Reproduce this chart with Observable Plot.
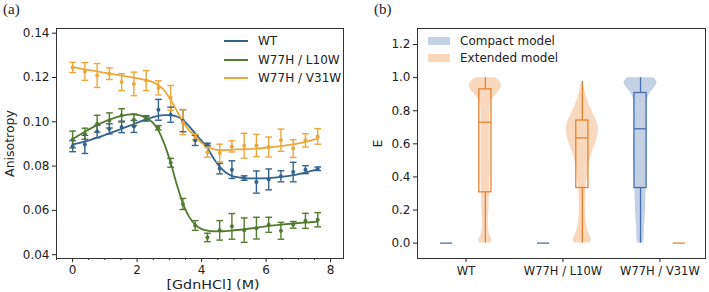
<!DOCTYPE html>
<html>
<head>
<meta charset="utf-8">
<script src="https://cdn.jsdelivr.net/npm/d3@7"></script>
<script src="https://cdn.jsdelivr.net/npm/@observablehq/plot@0.6"></script>
<style>
  body { margin: 0; background: #fff; }
  #wrap { position: relative; width: 709px; height: 292px; background: #fff; overflow: hidden; font-family: "DejaVu Sans", sans-serif; color: #222; }
  .panel { position: absolute; top: 0; }
  .tag { position: absolute; font-family: "Liberation Serif", "DejaVu Serif", serif; font-size: 15px; color: #222; }
  .leg { position: absolute; font-size: 12px; color: #222; }
  .leg .row { position: absolute; white-space: nowrap; display: flex; align-items: center; }
  .leg .sw-line { display: inline-block; width: 24px; height: 0; border-top: 2px solid; margin-right: 10px; }
  .leg .sw-patch { display: inline-block; width: 22px; height: 8px; margin-right: 10px; }
  #xlabA { position: absolute; left: 163px; width: 100px; top: 277px; text-align: center; font-size: 13px; line-height: 15px; white-space: nowrap; transform: scaleX(1.1); color: #222; }
  .panel svg text { font-family: "DejaVu Sans", sans-serif !important; fill: #222; }
  .panel svg [aria-label="x-axis tick label"], .panel svg [aria-label="x-axis tick label"] text { font-size: 12px !important; }
  .panel svg [aria-label="y-axis tick label"], .panel svg [aria-label="y-axis tick label"] text { font-size: 12px !important; }
  .panel svg [aria-label="y-axis label"], .panel svg [aria-label="y-axis label"] text { font-size: 12.5px !important; }
  #pb svg [aria-label="x-axis tick label"], #pb svg [aria-label="x-axis tick label"] text { font-size: 11.5px !important; }
</style>
</head>
<body>
<div id="wrap">
  <div id="pa" class="panel" style="left:0"></div>
  <div id="pb" class="panel" style="left:360px"></div>
  <div class="tag" style="left:3px; top:1px">(a)</div>
  <div class="tag" style="left:374px; top:1px">(b)</div>
  <div id="legA" class="leg"></div>
  <div id="legB" class="leg"></div>
  <div id="xlabA"></div>
</div>
<script>
// ---------------- Panel (a) data ----------------
const seriesNames = ["WT", "W77H / L10W", "W77H / V31W"];
const seriesColors = ["#33638f", "#527a30", "#eaa83a"];
const aXLabel = "[GdnHCl] (M)";
const aYLabel = "Anisotropy";
const conc = [0, 0.38, 0.76, 1.14, 1.52, 1.9, 2.28, 2.66, 3.04, 3.42, 3.8, 4.18, 4.56, 4.94, 5.32, 5.7, 6.08, 6.46, 6.84, 7.22, 7.6];

const wtMean = [0.0890,0.0898,0.0956,0.0968,0.0977,0.0979,0.1013,0.1054,0.1032,0.1005,0.0916,0.0898,0.0789,0.0784,0.0746,0.0728,0.0740,0.0754,0.0773,0.0784,0.0788];
const wtErr  = [0.0025,0.0041,0.0028,0.0023,0.0026,0.0027,0.0010,0.0047,0.0034,0.0050,0.0023,0.0005,0.0024,0.0040,0.0010,0.0050,0.0047,0.0025,0.0044,0.0018,0.0008];
const l10Mean = [0.0920,0.0946,0.0991,0.1006,0.1029,0.1009,0.1018,0.0973,0.0815,0.0629,0.0532,0.0478,0.0510,0.0528,0.0511,0.0520,0.0535,0.0508,0.0535,0.0553,0.0558];
const l10Err  = [0.0038,0.0025,0.0038,0.0034,0.0030,0.0026,0.0010,0.0010,0.0020,0.0025,0.0022,0.0019,0.0044,0.0058,0.0055,0.0049,0.0034,0.0038,0.0015,0.0034,0.0032];
const v31Mean = [0.1245,0.1227,0.1209,0.1217,0.1179,0.1171,0.1186,0.1153,0.1108,0.0998,0.0931,0.0863,0.0859,0.0889,0.0892,0.0893,0.0886,0.0917,0.0879,0.0916,0.0934];
const v31Err  = [0.0023,0.0040,0.0054,0.0026,0.0038,0.0053,0.0045,0.0032,0.0056,0.0056,0.0012,0.0023,0.0040,0.0025,0.0056,0.0050,0.0045,0.0050,0.0040,0.0030,0.0035];

const fitX = [0,0.38,0.76,1.14,1.52,1.9,2.28,2.47,2.66,2.85,3.04,3.23,3.42,3.61,3.8,3.99,4.18,4.37,4.56,4.75,4.94,5.32,5.7,6.08,6.46,6.84,7.22,7.6];
const wtFit  = [0.0898,0.0910,0.0928,0.0948,0.0968,0.0990,0.1011,0.1020,0.1027,0.1030,0.1030,0.1024,0.1008,0.0980,0.0947,0.0916,0.0882,0.0835,0.0797,0.0771,0.0756,0.0746,0.0745,0.0746,0.0751,0.0759,0.0771,0.0785];
const l10Fit = [0.0922,0.0955,0.0985,0.1010,0.1027,0.1033,0.1018,0.0998,0.0960,0.0898,0.0815,0.0717,0.0632,0.0572,0.0535,0.0517,0.0509,0.0506,0.0506,0.0507,0.0509,0.0515,0.0522,0.0530,0.0536,0.0541,0.0545,0.0549];
const v31Fit = [0.1247,0.1237,0.1227,0.1217,0.1208,0.1199,0.1188,0.1180,0.1165,0.1140,0.1098,0.1050,0.1000,0.0962,0.0934,0.0906,0.0887,0.0877,0.0872,0.0872,0.0874,0.0876,0.0879,0.0884,0.0890,0.0898,0.0909,0.0924];

const aYTicks = [0.04, 0.06, 0.08, 0.10, 0.12, 0.14];
const aXTicks = [0, 2, 4, 6, 8];
const aXMinor = [-0.5, 0.5, 1, 1.5, 2.5, 3, 3.5, 4.5, 5, 5.5, 6.5, 7, 7.5];

// ---------------- Panel (b) data ----------------
const categories = ["WT", "W77H / L10W", "W77H / V31W"];
const modelNames = ["Compact model", "Extended model"];
const modelStroke = ["#4470b0", "#e8822e"];
const modelFill = ["#4c72b0", "#ef8a3a"];
const bYTicks = [0, 0.2, 0.4, 0.6, 0.8, 1.0, 1.2];

// box statistics per category [WT, L10W, V31W]
const compactMin = [0, 0, 0], compactQ1 = [0, 0, 0.333], compactMed = [0, 0, 0.691], compactQ3 = [0, 0, 0.907], compactMax = [0, 0, 1.0];
const extendedMin = [0, 0, 0], extendedQ1 = [0.307, 0.333, 0], extendedMed = [0.731, 0.636, 0], extendedQ3 = [0.929, 0.741, 0], extendedMax = [1.0, 0.977, 0];

// violin outlines (half widths in category units)
const violinWTExtE = [0,0.02,0.04,0.07,0.1,0.15,0.2,0.3,0.4,0.5,0.6,0.7,0.8,0.84,0.87,0.9,0.93,0.96,0.98,1.0];
const violinWTExtW = [0.062,0.067,0.052,0.036,0.031,0.031,0.036,0.041,0.046,0.046,0.046,0.046,0.046,0.052,0.072,0.113,0.155,0.165,0.144,0.103];
const violinL10ExtE = [0,0.02,0.04,0.07,0.1,0.15,0.2,0.25,0.3,0.35,0.4,0.45,0.5,0.55,0.6,0.65,0.7,0.75,0.8,0.85,0.9,0.95,0.977];
const violinL10ExtW = [0.082,0.093,0.082,0.062,0.046,0.036,0.031,0.031,0.036,0.041,0.052,0.062,0.077,0.103,0.134,0.160,0.165,0.139,0.098,0.062,0.036,0.015,0.005];
const violinV31CompE = [0,0.03,0.1,0.2,0.3,0.4,0.5,0.6,0.7,0.8,0.85,0.88,0.91,0.94,0.97,1.0];
const violinV31CompW = [0.031,0.036,0.041,0.052,0.057,0.062,0.067,0.067,0.067,0.067,0.072,0.077,0.103,0.144,0.170,0.134];

// ---------------- build panel (a) ----------------
const meanArrs = [wtMean, l10Mean, v31Mean];
const errArrs = [wtErr, l10Err, v31Err];
const fitArrs = [wtFit, l10Fit, v31Fit];
const points = [];
seriesNames.forEach((s, k) => conc.forEach((x, i) => points.push({s, x, y: meanArrs[k][i], e: errArrs[k][i]})));
const fits = [];
seriesNames.forEach((s, k) => fitX.forEach((x, i) => fits.push({s, x, y: fitArrs[k][i]})));

const capSymbol = {draw(ctx, size) { const w = Math.sqrt(size); ctx.moveTo(-w, 0); ctx.lineTo(w, 0); }};
const colorA = {domain: seriesNames, range: seriesColors};
const styleBase = {fontFamily: "DejaVu Sans, sans-serif", fontSize: "12px", color: "#222", background: "transparent"};

const plotA = Plot.plot({
  width: 355, height: 292,
  marginLeft: 56, marginRight: 12, marginTop: 28, marginBottom: 34,
  style: styleBase,
  x: {domain: [-0.5, 8.4]},
  y: {domain: [0.0383, 0.1421]},
  color: colorA,
  marks: [
    Plot.line(fits, {x: "x", y: "y", z: "s", stroke: "s", strokeWidth: 1.8, curve: "catmull-rom"}),
    Plot.ruleX(points, {x: "x", y1: d => d.y - d.e, y2: d => d.y + d.e, stroke: "s", strokeWidth: 1.4}),
    Plot.dot(points, {x: "x", y: d => d.y + d.e, symbol: capSymbol, r: 1.9, stroke: "s", fill: "none", strokeWidth: 1.4}),
    Plot.dot(points, {x: "x", y: d => d.y - d.e, symbol: capSymbol, r: 1.9, stroke: "s", fill: "none", strokeWidth: 1.4}),
    Plot.dot(points, {x: "x", y: "y", r: 2, fill: "s", stroke: "none"}),
    Plot.axisX({ticks: aXMinor, tickSize: 2, tickFormat: () => "", label: null}),
    Plot.axisX({ticks: aXTicks, tickSize: 4, tickPadding: 3, tickFormat: d => String(d), label: null}),
    Plot.axisY({ticks: aYTicks, tickSize: 4, tickPadding: 3, tickFormat: d3.format(".2f"), label: null}),
    Plot.axisY({ticks: [], tickSize: 0, label: aYLabel, labelAnchor: "center", labelOffset: 51, labelArrow: "none"}),
    Plot.frame({stroke: "#333", strokeWidth: 1})
  ]
});
document.getElementById("pa").appendChild(plotA);
document.getElementById("xlabA").textContent = aXLabel;

// ---------------- build panel (b) ----------------
const violinRows = [];
function addViolin(id, catIdx, model, Es, Ws) {
  const pos = catIdx + 1 + (model === 0 ? -0.2 : 0.2);
  Es.forEach((e, i) => violinRows.push({id, model: modelNames[model], pos, e, w: Ws[i]}));
}
addViolin("wtExt", 0, 1, violinWTExtE, violinWTExtW);
addViolin("l10Ext", 1, 1, violinL10ExtE, violinL10ExtW);
addViolin("v31Comp", 2, 0, violinV31CompE, violinV31CompW);

const boxes = [];
categories.forEach((c, i) => {
  boxes.push({model: modelNames[0], pos: i + 1 - 0.2, min: compactMin[i], q1: compactQ1[i], med: compactMed[i], q3: compactQ3[i], max: compactMax[i]});
  boxes.push({model: modelNames[1], pos: i + 1 + 0.2, min: extendedMin[i], q1: extendedQ1[i], med: extendedMed[i], q3: extendedQ3[i], max: extendedMax[i]});
});
const realBoxes = boxes.filter(b => b.q3 > b.q1);
const boxHalf = 0.0625;
const fillScale = {domain: modelNames, range: modelFill};
const strokeOf = d => modelStroke[modelNames.indexOf(d.model)];

const plotB = Plot.plot({
  width: 349, height: 292,
  marginLeft: 57, marginRight: 4, marginTop: 28, marginBottom: 34,
  style: styleBase,
  x: {domain: [0.5, 3.47]},
  y: {domain: [-0.093, 1.297]},
  color: fillScale,
  marks: [
    Plot.areaX(violinRows, {y: "e", x1: d => d.pos - d.w, x2: d => d.pos + d.w, z: "id", fill: "model", fillOpacity: 0.33, curve: "catmull-rom"}),
    Plot.rect(realBoxes, {x1: d => d.pos - boxHalf, x2: d => d.pos + boxHalf, y1: "q1", y2: "q3", fill: "none", stroke: strokeOf, strokeWidth: 1.3}),
    Plot.ruleX(realBoxes, {x: "pos", y1: "q3", y2: "max", stroke: strokeOf, strokeWidth: 1.3}),
    Plot.ruleX(realBoxes, {x: "pos", y1: "min", y2: "q1", stroke: strokeOf, strokeWidth: 1.3}),
    Plot.ruleY(boxes, {y: "med", x1: d => d.pos - boxHalf, x2: d => d.pos + boxHalf, stroke: strokeOf, strokeWidth: 1.3}),
    Plot.axisX({ticks: [1, 2, 3], tickSize: 4, tickPadding: 4, tickFormat: d => categories[d - 1], label: null}),
    Plot.axisY({ticks: bYTicks, tickSize: 4, tickPadding: 3, tickFormat: d3.format(".1f"), label: null}),
    Plot.axisY({ticks: [], tickSize: 0, label: "E", labelAnchor: "center", labelOffset: 44, labelArrow: "none"}),
    Plot.frame({stroke: "#333", strokeWidth: 1})
  ]
});
document.getElementById("pb").appendChild(plotB);

// ---------------- legends ----------------
const legA = document.getElementById("legA");
seriesNames.forEach((s, i) => {
  const row = document.createElement("div");
  row.className = "row";
  row.style.left = "224px";
  row.style.top = (34 + i * 18.7) + "px";
  row.innerHTML = `<span class="sw-line" style="border-color:${seriesColors[i]}"></span><span>${s}</span>`;
  legA.appendChild(row);
});
const legB = document.getElementById("legB");
modelNames.forEach((m, i) => {
  const row = document.createElement("div");
  row.className = "row";
  row.style.left = "428px";
  row.style.top = (34 + i * 16.7) + "px";
  row.innerHTML = `<span class="sw-patch" style="background:${modelFill[i]};opacity:0.33"></span><span>${m}</span>`;
  legB.appendChild(row);
});
</script>
</body>
</html>
